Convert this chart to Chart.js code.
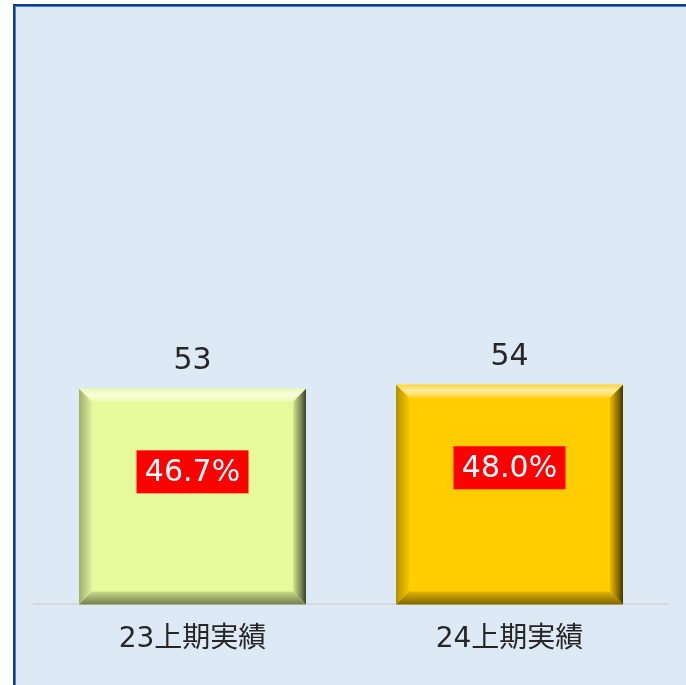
<!DOCTYPE html>
<html>
<head>
<meta charset="utf-8">
<script src="https://cdn.jsdelivr.net/npm/chart.js@4/dist/chart.umd.min.js"></script>
<style>
  html, body { margin: 0; padding: 0; background: #ffffff; }
  body { width: 686px; height: 685px; position: relative; overflow: hidden; }
  #frame {
    position: absolute; left: 13px; top: 4px; width: 700px; height: 700px;
    background: #dde9f5;
    border-left: 2px solid #0d3e90; border-top: 2px solid #0d3e90;
    box-shadow: inset 1px 1px 0 #4f7fc2;
  }
  #chart { position: absolute; left: 0; top: 0; }
</style>
</head>
<body>
<div id="frame"></div>
<canvas id="chart" width="686" height="685"></canvas>
<script>
// data
const categories = ['23上期実績', '24上期実績'];
const values = [53, 54];
const shares = [46.7, 48.0];
const barColors = ['#e6fa9c', '#ffcc00'];

const fontFamily = '"DejaVu Sans", "Noto Sans CJK JP", sans-serif';

// mix a hex colour with white (t>0) or black (t<0)
function shade(hex, t) {
    const n = parseInt(hex.slice(1), 16);
    let rgb = [(n >> 16) & 255, (n >> 8) & 255, n & 255];
    rgb = rgb.map(c => t >= 0 ? Math.round(c + (255 - c) * t) : Math.round(c * (1 + t)));
    return `rgb(${rgb[0]},${rgb[1]},${rgb[2]})`;
}

function band(ctx, pts, grad) {
    ctx.beginPath();
    ctx.moveTo(pts[0][0], pts[0][1]);
    for (let i = 1; i < pts.length; i++) ctx.lineTo(pts[i][0], pts[i][1]);
    ctx.closePath();
    ctx.fillStyle = grad;
    ctx.fill();
}

// bevel look on each bar, drawn over the library's bar elements
const bevelPlugin = {
    id: 'bevel',
    afterDatasetsDraw(chart) {
        const ctx = chart.ctx;
        const s = 13;
        chart.getDatasetMeta(0).data.forEach((bar, i) => {
            const base = barColors[i];
            const L = bar.x - bar.width / 2, R = bar.x + bar.width / 2;
            const T = bar.y, B = bar.base;
            ctx.save();
            // top
            let g = ctx.createLinearGradient(0, T, 0, T + s);
            g.addColorStop(0, shade(base, 0.2));
            g.addColorStop(0.45, shade(base, 0.65));
            g.addColorStop(1, shade(base, 0.15));
            band(ctx, [[L, T], [R, T], [R - s, T + s], [L + s, T + s]], g);
            // left
            g = ctx.createLinearGradient(L, 0, L + s, 0);
            g.addColorStop(0, shade(base, -0.3));
            g.addColorStop(1, shade(base, -0.03));
            band(ctx, [[L, T], [L + s, T + s], [L + s, B - s], [L, B]], g);
            // right
            g = ctx.createLinearGradient(R - s, 0, R, 0);
            g.addColorStop(0, shade(base, -0.08));
            g.addColorStop(0.6, shade(base, -0.45));
            g.addColorStop(1, shade(base, -0.75));
            band(ctx, [[R, T], [R, B], [R - s, B - s], [R - s, T + s]], g);
            // bottom
            g = ctx.createLinearGradient(0, B - s, 0, B);
            g.addColorStop(0, shade(base, -0.12));
            g.addColorStop(1, shade(base, -0.5));
            band(ctx, [[L, B], [R, B], [R - s, B - s], [L + s, B - s]], g);
            ctx.restore();
        });
    }
};

// value above each bar and red share box inside
const labelPlugin = {
    id: 'barLabels',
    afterDatasetsDraw(chart) {
        const ctx = chart.ctx;
        ctx.save();
        ctx.font = `30px ${fontFamily}`;
        ctx.textAlign = 'center';
        ctx.textBaseline = 'middle';
        chart.getDatasetMeta(0).data.forEach((bar, i) => {
            ctx.fillStyle = '#262626';
            ctx.fillText(String(values[i]), bar.x, bar.y - 28);
            const txt = shares[i].toFixed(1) + '%';
            const cy = bar.y + 83;
            ctx.fillStyle = '#ff0000';
            ctx.fillRect(bar.x - 56, cy - 21.5, 112, 43);
            ctx.fillStyle = '#ffffff';
            ctx.fillText(txt, bar.x, cy + 1);
        });
        ctx.restore();
    }
};

new Chart(document.getElementById('chart'), {
    type: 'bar',
    data: {
        labels: categories,
        datasets: [{
            data: values,
            backgroundColor: barColors,
            borderWidth: 0,
            barPercentage: 0.716,
            categoryPercentage: 1
        }]
    },
    options: {
        responsive: false,
        animation: false,
        layout: { padding: { left: 34, right: 18, top: 35, bottom: 17 } },
        plugins: { legend: { display: false }, tooltip: { enabled: false } },
        scales: {
            x: {
                grid: { display: false },
                border: { display: true, color: '#d9d9d9', width: 2 },
                ticks: { color: '#262626', padding: 11, font: { family: fontFamily, size: 28 } }
            },
            y: {
                display: false,
                min: 0,
                max: 140
            }
        }
    },
    plugins: [bevelPlugin, labelPlugin]
});
</script>
</body>
</html>
